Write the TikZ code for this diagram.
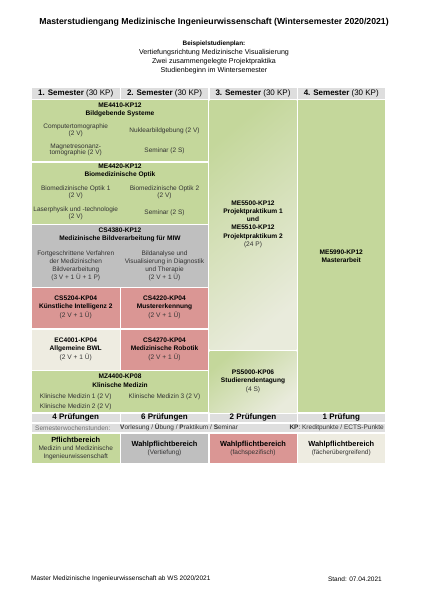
\documentclass[tikz,border=0pt]{standalone}
\usepackage{fontspec}
\setmainfont{Liberation Sans}
\definecolor{pflichtgruen}{HTML}{C4D79B}
\definecolor{projektblass}{HTML}{E9EBDC}
\definecolor{vertiefgrau}{HTML}{BFBFBF}
\definecolor{fachrot}{HTML}{DA9694}
\definecolor{uebergbeige}{HTML}{EEECE1}
\definecolor{kopfgrau}{HTML}{DEDEDE}
\begin{document}
\begin{tikzpicture}[x=1pt, y=-1pt,
    pflicht/.style={fill=pflichtgruen},
    vertiefung/.style={fill=vertiefgrau},
    fachspez/.style={fill=fachrot},
    uebergreifend/.style={fill=uebergbeige},
    projekt/.style={top color=pflichtgruen, bottom color=projektblass, shading angle=40},
    kopfzeile/.style={fill=kopfgrau},
    txt/.style={inner sep=0pt, align=center, text=black!80, font=\fontsize{6.5}{7.8}\selectfont},
    eng/.style={font=\fontsize{6.5}{6.4}\selectfont},
    modul/.style={inner sep=0pt, align=center, font=\bfseries\fontsize{6.6}{8.2}\selectfont},
    kopf/.style={inner sep=0pt, font=\fontsize{8}{9}\selectfont},
    legende/.style={inner sep=0pt, align=center, font=\fontsize{6.5}{8.2}\selectfont}]
  \useasboundingbox (0,0) rectangle (428,600);

  % Ueberschrift und Erlaeuterung
  \node[inner sep=0pt, font=\bfseries\fontsize{8.7}{10}\selectfont] (titel) at (214,22.7)
    {Masterstudiengang Medizinische Ingenieurwissenschaft (Wintersemester 2020/2021)};
  \node[inner sep=0pt, align=center, font=\fontsize{7.1}{9}\selectfont] (plan) at (214,57.9)
    {\textbf{\fontsize{6.4}{9}\selectfont Beispielstudienplan:}\\Vertiefungsrichtung Medizinische Visualisierung\\
     Zwei zusammengelegte Projektpraktika\\Studienbeginn im Wintersemester};

  % Kopfzeile mit den Semestern
  \foreach \i/\a/\b in {1/32/119.5, 2/121/208, 3/209.5/296.5, 4/298/384.5} {
    \fill[kopfzeile] (\a,87.5) rectangle (\b,98.5);
    \node[kopf] (sem\i) at ({(\a+\b)/2},93) {\textbf{\i. Semester} (30 KP)};}

  % Flaechen der Module, zwischen ihnen bleibt ein weisser Rand
  \fill[pflicht]       (32,100)    rectangle (208,161);
  \fill[pflicht]       (32,162.5)  rectangle (208,223.5);
  \fill[vertiefung]    (32,225)    rectangle (208,286.5);
  \fill[fachspez]      (32,288)    rectangle (119.5,328);
  \fill[fachspez]      (121,288)   rectangle (208,328);
  \fill[uebergreifend] (32,329.5)  rectangle (119.5,369.5);
  \fill[fachspez]      (121,329.5) rectangle (208,369.5);
  \fill[pflicht]       (32,371)    rectangle (208,412);
  \shade[projekt]      (209.5,100) rectangle (296.5,349.5);
  \shade[projekt]      (209.5,351) rectangle (296.5,412);
  \fill[pflicht]       (298,100)   rectangle (384.5,412);

  % 1. und 2. Semester
  \node[modul] (me4410) at (120,110) {\fontsize{6.6}{6.6}\selectfont ME4410-KP12\\Bildgebende Systeme};
  \node[txt, eng] (ct)   at (75.75,130.2) {Computertomographie\\(2 V)};
  \node[txt] (nuk)       at (164.5,130.7) {Nuklearbildgebung (2 V)};
  \node[txt, eng] (mrt)  at (75.75,150)   {Magnetresonanz-\\tomographie (2 V)};
  \node[txt] (sem4410)   at (164.5,151)   {Seminar (2 S)};

  \node[modul] (me4420) at (120,170.8) {ME4420-KP12\\Biomedizinische Optik};
  \node[txt, eng] (opt1) at (75.75,192.5) {Biomedizinische Optik 1\\(2 V)};
  \node[txt, eng] (opt2) at (164.5,192.5) {Biomedizinische Optik 2\\(2 V)};
  \node[txt, eng] (laser) at (75.75,213.2) {Laserphysik und -technologie\\(2 V)};
  \node[txt] (sem4420)   at (164.5,213.3) {Seminar (2 S)};

  \node[modul] (cs4380) at (120,234.8) {CS4380-KP12\\Medizinische Bildverarbeitung für MIW};
  \node[txt] (verf)  at (75.75,265.7)
    {Fortgeschrittene Verfahren\\der Medizinischen\\Bildverarbeitung\\(3 V + 1 Ü + 1 P)};
  \node[txt] (visu)  at (164.5,265.7)
    {Bildanalyse und\\Visualisierung in Diagnostik\\und Therapie\\(2 V + 1 Ü)};

  \foreach \n/\x/\y/\k/\t in {cs5204/75.75/307.2/CS5204-KP04/Künstliche Intelligenz 2,
                             cs4220/164.5/307.2/CS4220-KP04/Mustererkennung,
                             ec4001/75.75/349.3/EC4001-KP04/Allgemeine BWL,
                             cs4270/164.5/349.3/CS4270-KP04/Medizinische Robotik} {
    \node[modul] (\n) at (\x,\y) {\k\\\t\\{\mdseries\color{black!80}(2 V + 1 Ü)}};}

  \node[modul] (mz4400) at (120,380.8) {MZ4400-KP08\\Klinische Medizin};
  \node[txt] (klin1) at (75.75,396.7) {Klinische Medizin 1 (2 V)};
  \node[txt] (klin2) at (75.75,407.3) {Klinische Medizin 2 (2 V)};
  \node[txt] (klin3) at (164.5,396.7) {Klinische Medizin 3 (2 V)};

  % 3. und 4. Semester
  \node[modul] (me5500) at (253,224.2)
    {ME5500-KP12\\Projektpraktikum 1\\und\\ME5510-KP12\\Projektpraktikum 2\\{\mdseries\color{black!80}(24 P)}};
  \node[modul] (ps5000) at (253,381.2) {PS5000-KP06\\Studierendentagung\\{\mdseries\color{black!80}(4 S)}};
  \node[modul] (me5990) at (341.25,255.9) {ME5990-KP12\\Masterarbeit};

  % Pruefungen und Abkuerzungen
  \foreach \i/\a/\b/\t in {1/32/119.5/4 Prüfungen, 2/121/208/6 Prüfungen,
                           3/209.5/296.5/2 Prüfungen, 4/298/384.5/1 Prüfung} {
    \fill[kopfzeile] (\a,413.5) rectangle (\b,422);
    \node[kopf, font=\bfseries\fontsize{8}{9}\selectfont] (pruef\i) at ({(\a+\b)/2},417.8) {\t};}
  \fill[kopfzeile] (32,423.5) rectangle (384.5,432);
  \node[txt, anchor=west, text=black!55] (sws) at (35,427.8) {Semesterwochenstunden:};
  \node[txt, anchor=west] (arten) at (120,427.8)
    {\textbf{V}orlesung / \textbf{Ü}bung / \textbf{P}raktikum / \textbf{S}eminar};
  \node[txt, anchor=east] (kp) at (384,427.8) {\textbf{KP}: Kreditpunkte / ECTS-Punkte};

  % Legende der Bereiche
  \fill[pflicht]       (32,433.5)    rectangle (119.5,463);
  \fill[vertiefung]    (121,433.5)   rectangle (208,463);
  \fill[fachspez]      (209.5,433.5) rectangle (296.5,463);
  \fill[uebergreifend] (298,433.5)   rectangle (384.5,463);
  \node[legende] (lpflicht) at (75.75,448.3)
    {\textbf{\fontsize{7.4}{8.2}\selectfont Pflichtbereich}\\{\color{black!80}Medizin und Medizinische}\\{\color{black!80}Ingenieurwissenschaft}};
  \foreach \i/\x/\t in {2/164.5/Vertiefung, 3/253/fachspezifisch, 4/341.25/fächerübergreifend}
    \node[legende] (lwahl\i) at (\x,448.3)
      {\textbf{\fontsize{7.4}{8.2}\selectfont Wahlpflichtbereich}\\{\color{black!80}(\t)}};

  % Fusszeile
  \node[txt, anchor=west, text=black] (fuss)  at (31,579)  {Master Medizinische Ingenieurwissenschaft ab WS 2020/2021};
  \node[txt, anchor=east, text=black] (stand) at (382,579) {Stand: 07.04.2021};
\end{tikzpicture}
\end{document}
